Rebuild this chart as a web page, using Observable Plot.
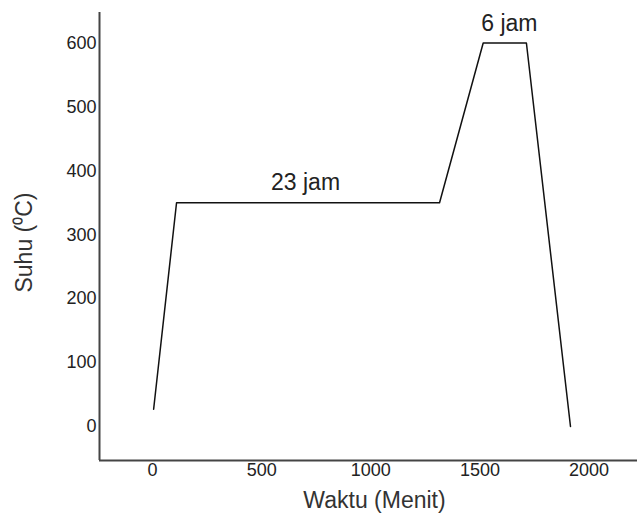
<!DOCTYPE html>
<html>
<head>
<meta charset="utf-8">
<script src="https://cdn.jsdelivr.net/npm/d3@7"></script>
<script src="https://cdn.jsdelivr.net/npm/@observablehq/plot@0.6"></script>
<style>
  body { margin: 0; background: #fff; }
  svg { font-family: "Liberation Sans", Arial, sans-serif; }
</style>
</head>
<body>
<div id="chart"></div>
<script>
const waktu = [5, 110, 1315, 1515, 1713, 1915];
const suhu = [27, 350, 350, 600, 600, 0];
const labelText = ["23 jam", "6 jam"];
const labelX = [701, 1635];
const labelY = [381, 630];
const xTicks = [0, 500, 1000, 1500, 2000];
const yTicks = [0, 100, 200, 300, 400, 500, 600];

const data = waktu.map((w, i) => ({waktu: w, suhu: suhu[i]}));
const labels = labelText.map((t, i) => ({t, x: labelX[i], y: labelY[i]}));
const xDomain = [-243, 2222];
const yDomain = [-53.2, 647.7];

const chart = Plot.plot({
  width: 637,
  height: 516,
  marginLeft: 99,
  marginRight: 0,
  marginTop: 12,
  marginBottom: 56,
  x: {domain: xDomain},
  y: {domain: yDomain},
  marks: [
    Plot.axisX({ticks: xTicks, tickSize: 0, tickPadding: 3, fontSize: 18, fill: "#222", tickFormat: d3.format("d"), label: null}),
    Plot.axisY({ticks: yTicks, tickSize: 0, tickPadding: 3, fontSize: 18, fill: "#222", tickFormat: d3.format("d"), label: null}),
    Plot.ruleX([xDomain[0]], {stroke: "#444", strokeWidth: 2}),
    Plot.ruleY([yDomain[0]], {stroke: "#444", strokeWidth: 2}),
    Plot.line(data, {x: "waktu", y: "suhu", stroke: "#111", strokeWidth: 1.5}),
    Plot.text(labels, {x: "x", y: "y", text: "t", fontSize: 23, fill: "#222", lineAnchor: "middle"}),
    Plot.text(["Waktu (Menit)"], {frameAnchor: "bottom", lineAnchor: "middle", textAnchor: "middle", dy: 40, dx: 6, fontSize: 23, fill: "#333"}),
    Plot.text(["Suhu (\u2070C)"], {frameAnchor: "left", lineAnchor: "middle", textAnchor: "middle", rotate: -90, dx: -75, dy: 6, fontSize: 23, fill: "#333"})
  ]
});
document.getElementById("chart").appendChild(chart);
</script>
</body>
</html>
